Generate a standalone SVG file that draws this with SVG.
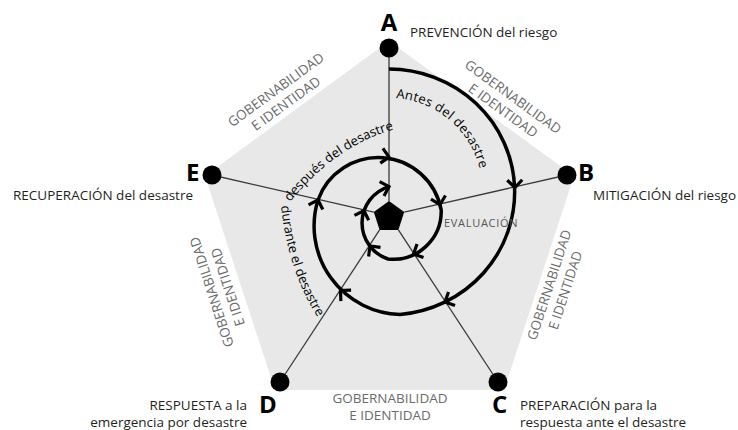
<svg xmlns="http://www.w3.org/2000/svg" width="738" height="430" viewBox="0 0 738 430">
<defs>
<style>
.lbl{font-family:"Open Sans","Noto Sans",sans-serif;font-size:13.5px;fill:#231f20}
.ltr{font-family:"Open Sans","Noto Sans",sans-serif;font-size:24px;font-weight:bold;fill:#000}
.gov{font-family:"Open Sans","Noto Sans",sans-serif;font-size:13.5px;fill:#6b6b6b;text-anchor:middle}
.sp{font-family:"Open Sans","Noto Sans",sans-serif;font-size:13px;fill:#000}
.ray{stroke:#3a3a3a;stroke-width:1.3;fill:none}
.dot{fill:#000}
.spiral{stroke:#000;stroke-width:3.5;fill:none}
</style>
<path id="chev" d="M-7.5,-7.5 L0,0 L-7.5,7.5" fill="none" stroke="#000" stroke-width="3.2"/>
<path id="pAntes" d="M396,98 A94,94 0 0 1 480,214"/>
<path id="pDespues" d="M290,202 Q336,146 392,130"/>
<path id="pDurante" d="M281,206 Q288,271 318,318"/>
</defs>
<rect width="738" height="430" fill="#fff"/>
<polygon id="background" points="389,41 574,176 504,390 275,390 205,176" fill="#e8e8e8"/>

<g id="connectors">
<line class="ray" x1="389" y1="48" x2="389" y2="201"/>
<line class="ray" x1="567" y1="175" x2="404.2" y2="212.1"/>
<line class="ray" x1="498" y1="382" x2="398.4" y2="229.9"/>
<line class="ray" x1="280" y1="382" x2="379.6" y2="229.9"/>
<line class="ray" x1="212" y1="175" x2="373.8" y2="212.1"/>
</g>

<g id="core"><polygon points="389,201 404.2,212.1 398.4,229.9 379.6,229.9 373.8,212.1" fill="#000"/></g>

<g id="spiral">
<path class="spiral" d="M389,69 A126,123 0 0 1 400,314.5 A88.5,88.5 0 0 1 318,200 A64,64 0 0 1 441.2,210 A48,48 0 0 1 388,259 A38,38 0 0 1 389,186.6"/>
<use href="#chev" transform="translate(515,187.5) rotate(88)"/>
<use href="#chev" transform="translate(445,302) rotate(154)"/>
<use href="#chev" transform="translate(340.5,290.5) rotate(223)"/>
<use href="#chev" transform="translate(318,200) rotate(-72)"/>
<use href="#chev" transform="translate(389,157) rotate(10)"/>
<use href="#chev" transform="translate(440,204.6) rotate(76)"/>
<use href="#chev" transform="translate(413.5,254) rotate(154.5)"/>
<use href="#chev" transform="translate(370,246) rotate(232.5)"/>
<use href="#chev" transform="translate(364,210.7) rotate(-71)"/>
<use href="#chev" transform="translate(389,186.6) rotate(-17)"/>
<text class="sp" font-size="15.5" letter-spacing="0.3"><textPath href="#pAntes">Antes del desastre</textPath></text>
<text class="sp" font-size="12.5"><textPath href="#pDespues">después del desastre</textPath></text>
<text class="sp"><textPath href="#pDurante">durante el desastre</textPath></text>
<text x="444" y="227" font-family="Open Sans, Noto Sans, sans-serif" font-size="11" letter-spacing="0.7" fill="#555">EVALUACIÓN</text>
</g>

<g id="governance">
<g transform="translate(513,97) rotate(36)"><text class="gov" y="4.5">GOBERNABILIDAD</text><text class="gov" y="21.5">E IDENTIDAD</text></g>
<g transform="translate(276,90) rotate(-36)"><text class="gov" y="4.5">GOBERNABILIDAD</text><text class="gov" y="21.5">E IDENTIDAD</text></g>
<g transform="translate(549.5,285) rotate(-72)"><text class="gov" y="4.5">GOBERNABILIDAD</text><text class="gov" y="21.5">E IDENTIDAD</text></g>
<g transform="translate(212,292) rotate(-108)"><text class="gov" y="4.5">GOBERNABILIDAD</text><text class="gov" y="21.5">E IDENTIDAD</text></g>
<g transform="translate(390,398.5)"><text class="gov" y="4.5">GOBERNABILIDAD</text><text class="gov" y="21.5">E IDENTIDAD</text></g>
</g>

<g id="node-A"><circle class="dot" cx="389" cy="48" r="9.5"/><text class="ltr" x="389" y="31" text-anchor="middle">A</text><text class="lbl" x="410" y="37">PREVENCIÓN del riesgo</text></g>
<g id="node-B"><circle class="dot" cx="567" cy="175" r="9.5"/><text class="ltr" x="578" y="181">B</text><text class="lbl" x="593" y="200">MITIGACIÓN del riesgo</text></g>
<g id="node-C"><circle class="dot" cx="498" cy="382" r="9.5"/><text class="ltr" x="492" y="413">C</text><text class="lbl" x="520" y="410">PREPARACIÓN para la</text><text class="lbl" x="520" y="427">respuesta ante el desastre</text></g>
<g id="node-D"><circle class="dot" cx="280" cy="382" r="9.5"/><text class="ltr" x="259" y="413">D</text><text class="lbl" x="247" y="410" text-anchor="end">RESPUESTA a la</text><text class="lbl" x="247" y="427" text-anchor="end">emergencia por desastre</text></g>
<g id="node-E"><circle class="dot" cx="212" cy="175" r="9.5"/><text class="ltr" x="186" y="181">E</text><text class="lbl" x="193" y="200" text-anchor="end">RECUPERACIÓN del desastre</text></g>
</svg>
